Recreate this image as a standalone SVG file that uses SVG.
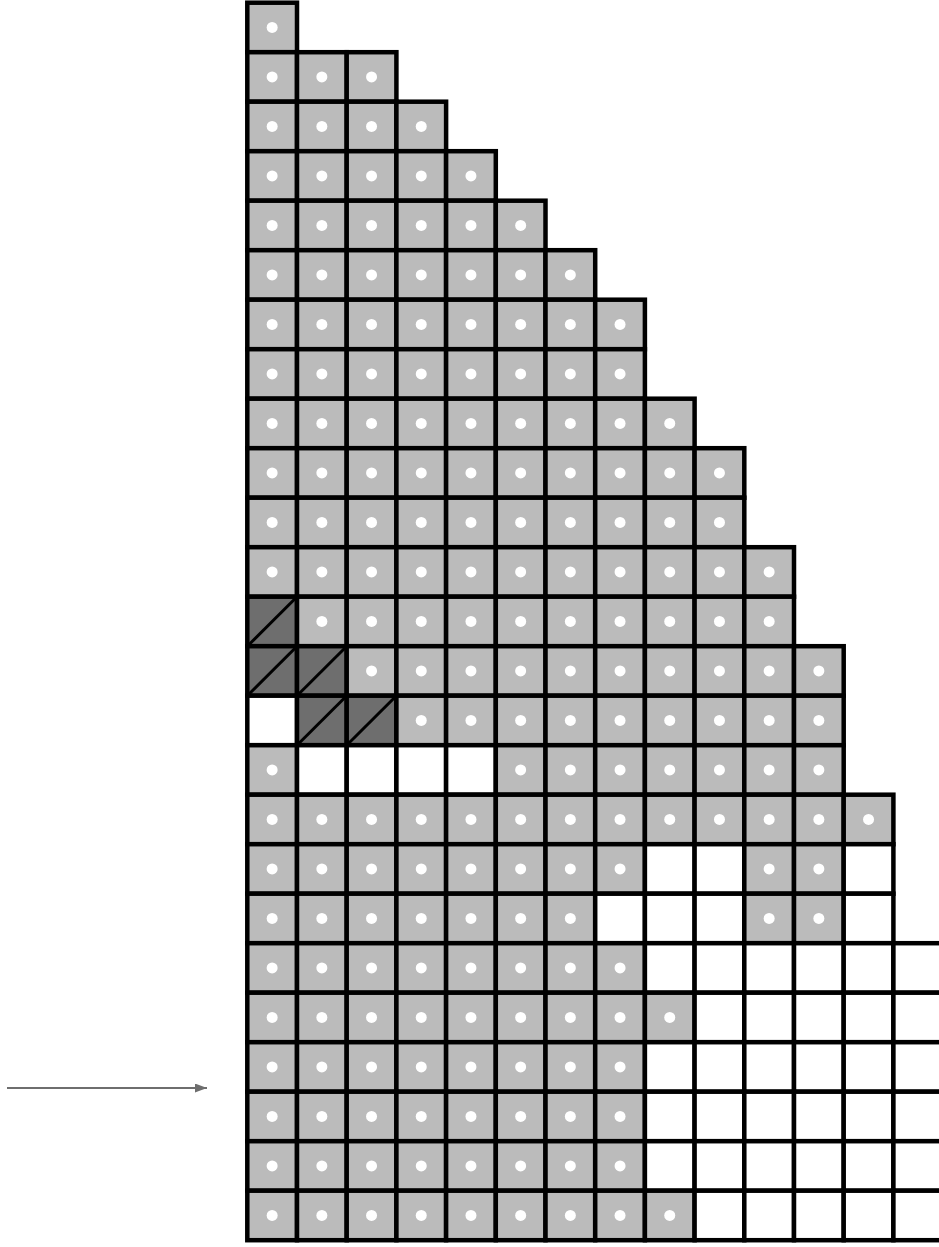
<svg xmlns="http://www.w3.org/2000/svg" xmlns:xlink="http://www.w3.org/1999/xlink" width="939" height="1247" viewBox="0 0 939 1247">
<style>
.cell{stroke:#000;stroke-width:4.5}
.g{fill:#bbbbbb}
.w{fill:#ffffff}
.d{fill:#6e6e6e}
.dot{fill:#ffffff}
.diag{stroke:#000;stroke-width:3}
.arrow{stroke:#6e6e6e;stroke-width:1.8;fill:none}
</style>
<defs>
<g id="G"><rect class="cell g" x="0" y="0" width="49.7" height="49.5"/><circle class="dot" cx="24.85" cy="24.75" r="5.5"/></g>
<g id="W"><rect class="cell w" x="0" y="0" width="49.7" height="49.5"/></g>
<g id="D"><rect class="cell d" x="0" y="0" width="49.7" height="49.5"/><line class="diag" x1="0" y1="49.5" x2="49.7" y2="0"/></g>
<marker id="ah" markerWidth="12" markerHeight="9" refX="12" refY="4.5" orient="auto" markerUnits="userSpaceOnUse"><path d="M0,0 L12,4.5 L0,9 Z" fill="#6e6e6e"/></marker>
</defs>
<rect width="939" height="1247" fill="#fff"/>
<g id="row0"><use href="#G" x="247.3" y="2.7"/></g>
<g id="row1"><use href="#G" x="247.3" y="52.2"/><use href="#G" x="297" y="52.2"/><use href="#G" x="346.7" y="52.2"/></g>
<g id="row2"><use href="#G" x="247.3" y="101.7"/><use href="#G" x="297" y="101.7"/><use href="#G" x="346.7" y="101.7"/><use href="#G" x="396.4" y="101.7"/></g>
<g id="row3"><use href="#G" x="247.3" y="151.2"/><use href="#G" x="297" y="151.2"/><use href="#G" x="346.7" y="151.2"/><use href="#G" x="396.4" y="151.2"/><use href="#G" x="446.1" y="151.2"/></g>
<g id="row4"><use href="#G" x="247.3" y="200.7"/><use href="#G" x="297" y="200.7"/><use href="#G" x="346.7" y="200.7"/><use href="#G" x="396.4" y="200.7"/><use href="#G" x="446.1" y="200.7"/><use href="#G" x="495.8" y="200.7"/></g>
<g id="row5"><use href="#G" x="247.3" y="250.2"/><use href="#G" x="297" y="250.2"/><use href="#G" x="346.7" y="250.2"/><use href="#G" x="396.4" y="250.2"/><use href="#G" x="446.1" y="250.2"/><use href="#G" x="495.8" y="250.2"/><use href="#G" x="545.5" y="250.2"/></g>
<g id="row6"><use href="#G" x="247.3" y="299.7"/><use href="#G" x="297" y="299.7"/><use href="#G" x="346.7" y="299.7"/><use href="#G" x="396.4" y="299.7"/><use href="#G" x="446.1" y="299.7"/><use href="#G" x="495.8" y="299.7"/><use href="#G" x="545.5" y="299.7"/><use href="#G" x="595.2" y="299.7"/></g>
<g id="row7"><use href="#G" x="247.3" y="349.2"/><use href="#G" x="297" y="349.2"/><use href="#G" x="346.7" y="349.2"/><use href="#G" x="396.4" y="349.2"/><use href="#G" x="446.1" y="349.2"/><use href="#G" x="495.8" y="349.2"/><use href="#G" x="545.5" y="349.2"/><use href="#G" x="595.2" y="349.2"/></g>
<g id="row8"><use href="#G" x="247.3" y="398.7"/><use href="#G" x="297" y="398.7"/><use href="#G" x="346.7" y="398.7"/><use href="#G" x="396.4" y="398.7"/><use href="#G" x="446.1" y="398.7"/><use href="#G" x="495.8" y="398.7"/><use href="#G" x="545.5" y="398.7"/><use href="#G" x="595.2" y="398.7"/><use href="#G" x="644.9" y="398.7"/></g>
<g id="row9"><use href="#G" x="247.3" y="448.2"/><use href="#G" x="297" y="448.2"/><use href="#G" x="346.7" y="448.2"/><use href="#G" x="396.4" y="448.2"/><use href="#G" x="446.1" y="448.2"/><use href="#G" x="495.8" y="448.2"/><use href="#G" x="545.5" y="448.2"/><use href="#G" x="595.2" y="448.2"/><use href="#G" x="644.9" y="448.2"/><use href="#G" x="694.6" y="448.2"/></g>
<g id="row10"><use href="#G" x="247.3" y="497.7"/><use href="#G" x="297" y="497.7"/><use href="#G" x="346.7" y="497.7"/><use href="#G" x="396.4" y="497.7"/><use href="#G" x="446.1" y="497.7"/><use href="#G" x="495.8" y="497.7"/><use href="#G" x="545.5" y="497.7"/><use href="#G" x="595.2" y="497.7"/><use href="#G" x="644.9" y="497.7"/><use href="#G" x="694.6" y="497.7"/></g>
<g id="row11"><use href="#G" x="247.3" y="547.2"/><use href="#G" x="297" y="547.2"/><use href="#G" x="346.7" y="547.2"/><use href="#G" x="396.4" y="547.2"/><use href="#G" x="446.1" y="547.2"/><use href="#G" x="495.8" y="547.2"/><use href="#G" x="545.5" y="547.2"/><use href="#G" x="595.2" y="547.2"/><use href="#G" x="644.9" y="547.2"/><use href="#G" x="694.6" y="547.2"/><use href="#G" x="744.3" y="547.2"/></g>
<g id="row12"><use href="#D" x="247.3" y="596.7"/><use href="#G" x="297" y="596.7"/><use href="#G" x="346.7" y="596.7"/><use href="#G" x="396.4" y="596.7"/><use href="#G" x="446.1" y="596.7"/><use href="#G" x="495.8" y="596.7"/><use href="#G" x="545.5" y="596.7"/><use href="#G" x="595.2" y="596.7"/><use href="#G" x="644.9" y="596.7"/><use href="#G" x="694.6" y="596.7"/><use href="#G" x="744.3" y="596.7"/></g>
<g id="row13"><use href="#D" x="247.3" y="646.2"/><use href="#D" x="297" y="646.2"/><use href="#G" x="346.7" y="646.2"/><use href="#G" x="396.4" y="646.2"/><use href="#G" x="446.1" y="646.2"/><use href="#G" x="495.8" y="646.2"/><use href="#G" x="545.5" y="646.2"/><use href="#G" x="595.2" y="646.2"/><use href="#G" x="644.9" y="646.2"/><use href="#G" x="694.6" y="646.2"/><use href="#G" x="744.3" y="646.2"/><use href="#G" x="794" y="646.2"/></g>
<g id="row14"><use href="#W" x="247.3" y="695.7"/><use href="#D" x="297" y="695.7"/><use href="#D" x="346.7" y="695.7"/><use href="#G" x="396.4" y="695.7"/><use href="#G" x="446.1" y="695.7"/><use href="#G" x="495.8" y="695.7"/><use href="#G" x="545.5" y="695.7"/><use href="#G" x="595.2" y="695.7"/><use href="#G" x="644.9" y="695.7"/><use href="#G" x="694.6" y="695.7"/><use href="#G" x="744.3" y="695.7"/><use href="#G" x="794" y="695.7"/></g>
<g id="row15"><use href="#G" x="247.3" y="745.2"/><use href="#W" x="297" y="745.2"/><use href="#W" x="346.7" y="745.2"/><use href="#W" x="396.4" y="745.2"/><use href="#W" x="446.1" y="745.2"/><use href="#G" x="495.8" y="745.2"/><use href="#G" x="545.5" y="745.2"/><use href="#G" x="595.2" y="745.2"/><use href="#G" x="644.9" y="745.2"/><use href="#G" x="694.6" y="745.2"/><use href="#G" x="744.3" y="745.2"/><use href="#G" x="794" y="745.2"/></g>
<g id="row16"><use href="#G" x="247.3" y="794.7"/><use href="#G" x="297" y="794.7"/><use href="#G" x="346.7" y="794.7"/><use href="#G" x="396.4" y="794.7"/><use href="#G" x="446.1" y="794.7"/><use href="#G" x="495.8" y="794.7"/><use href="#G" x="545.5" y="794.7"/><use href="#G" x="595.2" y="794.7"/><use href="#G" x="644.9" y="794.7"/><use href="#G" x="694.6" y="794.7"/><use href="#G" x="744.3" y="794.7"/><use href="#G" x="794" y="794.7"/><use href="#G" x="843.7" y="794.7"/></g>
<g id="row17"><use href="#G" x="247.3" y="844.2"/><use href="#G" x="297" y="844.2"/><use href="#G" x="346.7" y="844.2"/><use href="#G" x="396.4" y="844.2"/><use href="#G" x="446.1" y="844.2"/><use href="#G" x="495.8" y="844.2"/><use href="#G" x="545.5" y="844.2"/><use href="#G" x="595.2" y="844.2"/><use href="#W" x="644.9" y="844.2"/><use href="#W" x="694.6" y="844.2"/><use href="#G" x="744.3" y="844.2"/><use href="#G" x="794" y="844.2"/><use href="#W" x="843.7" y="844.2"/></g>
<g id="row18"><use href="#G" x="247.3" y="893.7"/><use href="#G" x="297" y="893.7"/><use href="#G" x="346.7" y="893.7"/><use href="#G" x="396.4" y="893.7"/><use href="#G" x="446.1" y="893.7"/><use href="#G" x="495.8" y="893.7"/><use href="#G" x="545.5" y="893.7"/><use href="#W" x="595.2" y="893.7"/><use href="#W" x="644.9" y="893.7"/><use href="#W" x="694.6" y="893.7"/><use href="#G" x="744.3" y="893.7"/><use href="#G" x="794" y="893.7"/><use href="#W" x="843.7" y="893.7"/></g>
<g id="row19"><use href="#G" x="247.3" y="943.2"/><use href="#G" x="297" y="943.2"/><use href="#G" x="346.7" y="943.2"/><use href="#G" x="396.4" y="943.2"/><use href="#G" x="446.1" y="943.2"/><use href="#G" x="495.8" y="943.2"/><use href="#G" x="545.5" y="943.2"/><use href="#G" x="595.2" y="943.2"/><use href="#W" x="644.9" y="943.2"/><use href="#W" x="694.6" y="943.2"/><use href="#W" x="744.3" y="943.2"/><use href="#W" x="794" y="943.2"/><use href="#W" x="843.7" y="943.2"/><use href="#W" x="893.4" y="943.2"/></g>
<g id="row20"><use href="#G" x="247.3" y="992.7"/><use href="#G" x="297" y="992.7"/><use href="#G" x="346.7" y="992.7"/><use href="#G" x="396.4" y="992.7"/><use href="#G" x="446.1" y="992.7"/><use href="#G" x="495.8" y="992.7"/><use href="#G" x="545.5" y="992.7"/><use href="#G" x="595.2" y="992.7"/><use href="#G" x="644.9" y="992.7"/><use href="#W" x="694.6" y="992.7"/><use href="#W" x="744.3" y="992.7"/><use href="#W" x="794" y="992.7"/><use href="#W" x="843.7" y="992.7"/><use href="#W" x="893.4" y="992.7"/></g>
<g id="row21"><use href="#G" x="247.3" y="1042.2"/><use href="#G" x="297" y="1042.2"/><use href="#G" x="346.7" y="1042.2"/><use href="#G" x="396.4" y="1042.2"/><use href="#G" x="446.1" y="1042.2"/><use href="#G" x="495.8" y="1042.2"/><use href="#G" x="545.5" y="1042.2"/><use href="#G" x="595.2" y="1042.2"/><use href="#W" x="644.9" y="1042.2"/><use href="#W" x="694.6" y="1042.2"/><use href="#W" x="744.3" y="1042.2"/><use href="#W" x="794" y="1042.2"/><use href="#W" x="843.7" y="1042.2"/><use href="#W" x="893.4" y="1042.2"/></g>
<g id="row22"><use href="#G" x="247.3" y="1091.7"/><use href="#G" x="297" y="1091.7"/><use href="#G" x="346.7" y="1091.7"/><use href="#G" x="396.4" y="1091.7"/><use href="#G" x="446.1" y="1091.7"/><use href="#G" x="495.8" y="1091.7"/><use href="#G" x="545.5" y="1091.7"/><use href="#G" x="595.2" y="1091.7"/><use href="#W" x="644.9" y="1091.7"/><use href="#W" x="694.6" y="1091.7"/><use href="#W" x="744.3" y="1091.7"/><use href="#W" x="794" y="1091.7"/><use href="#W" x="843.7" y="1091.7"/><use href="#W" x="893.4" y="1091.7"/></g>
<g id="row23"><use href="#G" x="247.3" y="1141.2"/><use href="#G" x="297" y="1141.2"/><use href="#G" x="346.7" y="1141.2"/><use href="#G" x="396.4" y="1141.2"/><use href="#G" x="446.1" y="1141.2"/><use href="#G" x="495.8" y="1141.2"/><use href="#G" x="545.5" y="1141.2"/><use href="#G" x="595.2" y="1141.2"/><use href="#W" x="644.9" y="1141.2"/><use href="#W" x="694.6" y="1141.2"/><use href="#W" x="744.3" y="1141.2"/><use href="#W" x="794" y="1141.2"/><use href="#W" x="843.7" y="1141.2"/><use href="#W" x="893.4" y="1141.2"/></g>
<g id="row24"><use href="#G" x="247.3" y="1190.7"/><use href="#G" x="297" y="1190.7"/><use href="#G" x="346.7" y="1190.7"/><use href="#G" x="396.4" y="1190.7"/><use href="#G" x="446.1" y="1190.7"/><use href="#G" x="495.8" y="1190.7"/><use href="#G" x="545.5" y="1190.7"/><use href="#G" x="595.2" y="1190.7"/><use href="#G" x="644.9" y="1190.7"/><use href="#W" x="694.6" y="1190.7"/><use href="#W" x="744.3" y="1190.7"/><use href="#W" x="794" y="1190.7"/><use href="#W" x="843.7" y="1190.7"/><use href="#W" x="893.4" y="1190.7"/></g>
<g id="connectors"><line class="arrow" x1="7" y1="1088" x2="207" y2="1088" marker-end="url(#ah)"/></g>
</svg>
